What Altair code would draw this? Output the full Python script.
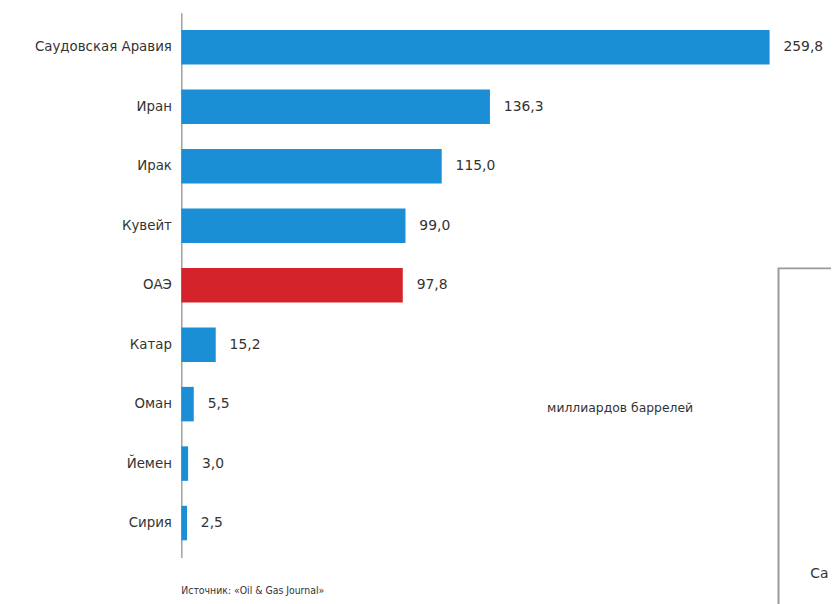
import altair as alt
import pandas as pd

countries = ["Саудовская Аравия", "Иран", "Ирак", "Кувейт", "ОАЭ", "Катар", "Оман", "Йемен", "Сирия"]
values = [259.8, 136.3, 115.0, 99.0, 97.8, 15.2, 5.5, 3.0, 2.5]
labels = ["259,8", "136,3", "115,0", "99,0", "97,8", "15,2", "5,5", "3,0", "2,5"]
highlight = [False, False, False, False, True, False, False, False, False]

df = pd.DataFrame({"country": countries, "value": values, "label": labels, "hl": highlight})

FONT = "DejaVu Sans, Liberation Sans, Arial"
NARROW = "Liberation Sans Narrow, DejaVu Sans Condensed, Liberation Sans, Arial"

y_enc = alt.Y("country:N", sort=countries, title=None,
              scale=alt.Scale(paddingInner=0.42, paddingOuter=0.29),
              axis=alt.Axis(ticks=False, domain=True, domainColor="#a0a0a0", domainWidth=1.5,
                            labelFontSize=13.5, labelFont=FONT, labelColor="#333333",
                            labelPadding=10))
x_enc = alt.X("value:Q", title=None, scale=alt.Scale(domain=[0, 259.8], nice=False),
              axis=None)

bars = alt.Chart(df).mark_bar().encode(
    x=x_enc, y=y_enc,
    color=alt.Color("hl:N", scale=alt.Scale(domain=[False, True], range=["#1b8fd6", "#d4232b"]), legend=None),
)

text = alt.Chart(df).mark_text(align="left", baseline="middle", dx=14, fontSize=14,
                               font=FONT, color="#333333").encode(
    x=x_enc, y=y_enc, text="label:N")

unit = alt.Chart(pd.DataFrame({"t": ["миллиардов баррелей"]})).mark_text(
    fontSize=12.5, font=FONT, color="#333333", align="center", baseline="middle").encode(
    x=alt.value(443), y=alt.value(399), text="t:N")

source = alt.Chart(pd.DataFrame({"t": ["Источник: «Oil & Gas Journal»"]})).mark_text(
    fontSize=10.5, font=NARROW, color="#333333", align="left", baseline="middle").encode(
    x=alt.value(0), y=alt.value(584), text="t:N")

box = alt.Chart(pd.DataFrame({"a": [1]})).mark_rect(
    fill="white", stroke="#9a9a9a", strokeWidth=2).encode(
    x=alt.value(603), x2=alt.value(720), y=alt.value(258), y2=alt.value(650))

boxtext = alt.Chart(pd.DataFrame({"t": ["Са"]})).mark_text(
    fontSize=14, font=FONT, color="#333333", align="left", baseline="middle").encode(
    x=alt.value(635), y=alt.value(567), text="t:N")

chart = alt.layer(bars, text, unit, source, box, boxtext).properties(
    width=594, height=550,
    autosize=alt.AutoSizeParams(type="none"),
    padding={"left": 175, "top": 2, "right": 62, "bottom": 44},
).configure(background="white").configure_view(stroke=None, strokeWidth=0)

chart.save("out.html", embed_options={"renderer": "svg", "actions": False})
